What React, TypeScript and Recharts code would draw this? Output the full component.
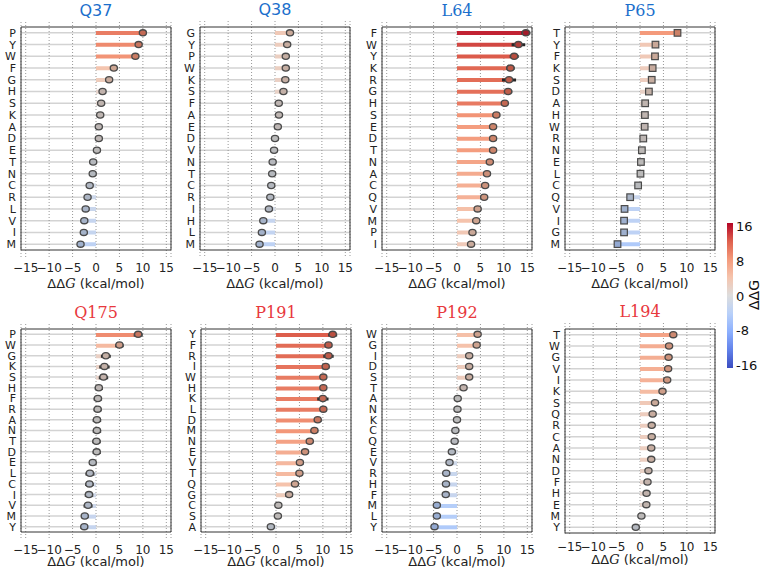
import React from 'react'
import { Bar, CartesianGrid, Cell, ComposedChart, Line, ReferenceArea, XAxis, YAxis } from 'recharts'

// residue labels and ddG values (kcal/mol), read top to bottom
const q37Labels = ['P', 'Y', 'W', 'F', 'G', 'H', 'S', 'K', 'A', 'D', 'E', 'T', 'N', 'C', 'R', 'L', 'V', 'I', 'M']
const q37Values = [10.0, 9.1, 8.4, 3.8, 2.8, 1.4, 1.1, 0.9, 0.6, 0.6, 0.2, -0.6, -0.7, -1.35, -1.8, -2.2, -2.5, -2.6, -3.3]
const q37Errors = [0.6, 0.6, 0.6, 0.5, 0.5, 0.5, 0.5, 0.5, 0.4, 0.4, 0.4, 0.4, 0.4, 0.4, 0.4, 0.4, 0.5, 0.5, 0.5]

const q38Labels = ['G', 'Y', 'P', 'W', 'K', 'S', 'F', 'A', 'E', 'D', 'V', 'N', 'T', 'C', 'R', 'I', 'H', 'L', 'M']
const q38Values = [3.2, 2.6, 2.3, 2.3, 2.2, 1.8, 0.8, 0.85, 0.6, 0.0, -0.2, -0.5, -0.6, -0.8, -1.0, -1.3, -2.5, -2.8, -3.3]
const q38Errors = [0.5, 0.5, 0.5, 0.5, 0.5, 0.5, 0.4, 0.4, 0.4, 0.4, 0.4, 0.4, 0.4, 0.4, 0.4, 0.4, 0.5, 0.5, 0.5]

const l64Labels = ['F', 'W', 'Y', 'K', 'R', 'G', 'H', 'S', 'E', 'D', 'T', 'N', 'A', 'C', 'Q', 'V', 'M', 'P', 'I']
const l64Values = [14.7, 13.1, 12.2, 11.4, 11.1, 10.9, 10.2, 8.4, 7.7, 7.7, 7.7, 7.0, 6.4, 6.0, 5.8, 4.4, 4.1, 3.3, 3.0]
const l64Errors = [0.95, 1.45, 0.95, 0.9, 1.5, 0.9, 0.7, 0.8, 0.8, 0.8, 0.8, 0.8, 0.8, 0.75, 0.8, 0.75, 0.8, 0.6, 0.6]

const p65Labels = ['T', 'Y', 'F', 'K', 'S', 'D', 'A', 'H', 'W', 'R', 'N', 'E', 'L', 'C', 'Q', 'V', 'I', 'G', 'M']
const p65Values = [8.0, 3.3, 3.2, 2.7, 2.5, 1.9, 1.1, 1.05, 1.0, 0.7, 0.4, 0.2, 0.1, -0.4, -2.1, -3.3, -3.4, -3.4, -4.8]
const p65Errors = [0.4, 0.4, 0.4, 0.4, 0.4, 0.4, 0.4, 0.4, 0.4, 0.4, 0.4, 0.4, 0.4, 0.4, 0.4, 0.4, 0.4, 0.4, 0.4]

const q175Labels = ['P', 'W', 'G', 'K', 'S', 'H', 'F', 'R', 'A', 'N', 'T', 'D', 'E', 'L', 'C', 'I', 'V', 'M', 'Y']
const q175Values = [9.0, 5.0, 2.1, 1.8, 1.6, 0.6, 0.4, 0.35, 0.2, 0.2, 0.1, 0.15, -0.7, -1.3, -1.4, -1.5, -1.7, -2.4, -2.5]
const q175Errors = [0.95, 0.9, 1.05, 1.1, 1.0, 0.85, 0.9, 0.85, 0.9, 0.9, 0.9, 0.85, 0.8, 0.95, 0.9, 0.9, 0.95, 0.8, 0.8]

const p191Labels = ['Y', 'F', 'R', 'I', 'W', 'H', 'K', 'L', 'D', 'M', 'N', 'E', 'V', 'T', 'Q', 'G', 'C', 'S', 'A']
const p191Values = [12.1, 11.2, 11.2, 10.6, 10.1, 10.1, 10.0, 10.1, 8.9, 8.2, 7.2, 6.2, 5.1, 5.0, 4.05, 2.8, 0.5, 0.4, -1.1]
const p191Errors = [0.95, 0.8, 1.1, 0.8, 0.7, 0.7, 1.2, 0.7, 0.8, 0.8, 0.8, 0.7, 0.75, 0.75, 0.75, 0.8, 0.5, 0.5, 0.5]

const p192Labels = ['W', 'G', 'I', 'D', 'S', 'T', 'A', 'N', 'K', 'C', 'Q', 'E', 'V', 'R', 'H', 'F', 'M', 'L', 'Y']
const p192Values = [4.4, 4.2, 2.6, 2.6, 2.6, 1.4, 0.15, 0.1, 0.0, -0.35, -0.5, -1.1, -1.6, -2.3, -2.35, -2.4, -4.3, -4.3, -4.8]
const p192Errors = [0.5, 0.5, 0.5, 0.5, 0.5, 0.5, 0.4, 0.4, 0.4, 0.4, 0.4, 0.4, 0.4, 0.4, 0.4, 0.4, 0.5, 0.5, 0.5]

const l194Labels = ['T', 'W', 'G', 'V', 'I', 'K', 'S', 'Q', 'R', 'C', 'A', 'N', 'D', 'F', 'H', 'E', 'M', 'Y']
const l194Values = [7.1, 6.2, 6.1, 6.0, 5.8, 4.8, 3.2, 2.7, 2.5, 2.5, 2.4, 2.4, 1.8, 1.6, 1.4, 1.35, 0.3, -0.9]
const l194Errors = [0.5, 0.5, 0.5, 0.5, 0.5, 0.5, 0.4, 0.4, 0.4, 0.4, 0.4, 0.4, 0.4, 0.4, 0.4, 0.4, 0.4, 0.4]

const xTicks = [-15, -10, -5, 0, 5, 10, 15]
const cbarTicks = [16, 8, 0, -8, -16]

const BLUE = '#1b6fcc'
const RED = '#e8383d'

// matplotlib coolwarm, sampled
const coolwarm = [
  [59, 76, 192],
  [98, 130, 234],
  [141, 176, 254],
  [184, 208, 249],
  [221, 221, 221],
  [245, 196, 173],
  [244, 154, 123],
  [222, 96, 77],
  [180, 4, 38],
]

function cmap(v: number, k = 1) {
  const t = Math.max(0, Math.min(1, (v + 16) / 32)) * 8
  const i = Math.min(7, Math.floor(t))
  const f = t - i
  const a = coolwarm[i]
  const b = coolwarm[i + 1]
  const c = a.map((x, j) => Math.round((x + (b[j] - x) * f) * k))
  return `rgb(${c[0]},${c[1]},${c[2]})`
}

const fmt = (v: number) => String(v).replace('-', '\u2212')

interface PanelDef {
  title: string
  color: string
  serif: boolean
  square?: boolean
  labels: string[]
  values: number[]
  errors: number[]
  x: number
  y: number
  w: number
  h: number
  padTop: number
  padBot: number
  labelY: number
}

const panels: PanelDef[] = [
  { title: 'Q37', color: BLUE, serif: false, labels: q37Labels, values: q37Values, errors: q37Errors, x: 21, y: 22, w: 150, h: 235, padTop: 5, padBot: 7, labelY: 284 },
  { title: 'Q38', color: BLUE, serif: false, labels: q38Labels, values: q38Values, errors: q38Errors, x: 200, y: 21, w: 150, h: 236, padTop: 6, padBot: 7, labelY: 284 },
  { title: 'L64', color: BLUE, serif: true, labels: l64Labels, values: l64Values, errors: l64Errors, x: 382, y: 22, w: 150, h: 235, padTop: 5, padBot: 7, labelY: 284 },
  { title: 'P65', color: BLUE, serif: true, square: true, labels: p65Labels, values: p65Values, errors: p65Errors, x: 565, y: 22, w: 150, h: 235, padTop: 5, padBot: 7, labelY: 284 },
  { title: 'Q175', color: RED, serif: true, labels: q175Labels, values: q175Values, errors: q175Errors, x: 21, y: 324, w: 150, h: 215, padTop: 5, padBot: 7, labelY: 562 },
  { title: 'P191', color: RED, serif: true, labels: p191Labels, values: p191Values, errors: p191Errors, x: 201, y: 324, w: 150, h: 215, padTop: 5, padBot: 7, labelY: 562 },
  { title: 'P192', color: RED, serif: true, labels: p192Labels, values: p192Values, errors: p192Errors, x: 382, y: 324, w: 150, h: 215, padTop: 5, padBot: 7, labelY: 562 },
  { title: 'L194', color: RED, serif: true, labels: l194Labels, values: l194Values, errors: l194Errors, x: 565, y: 323, w: 150, h: 213, padTop: 6, padBot: 3, labelY: 560 },
]

function Marker(props: any) {
  const { cx, cy, payload, square } = props
  if (cx == null || cy == null) return null
  const fill = cmap(payload.v, 0.84)
  if (square) {
    return <rect x={cx - 3.3} y={cy - 3.3} width={6.6} height={6.6} fill={fill} stroke="#4a4a4a" strokeWidth={1.2} />
  }
  return <ellipse cx={cx} cy={cy} rx={3.6} ry={3.1} fill={fill} stroke="#4a4a4a" strokeWidth={1.3} />
}

function Panel({ p }: { p: PanelDef }) {
  // eb = [low, high] of the error interval, drawn as a thin dark range bar over the value bar
  const data = p.labels.map((aa, i) => ({
    aa,
    v: p.values[i],
    eb: [p.values[i] - p.errors[i], p.values[i] + p.errors[i]],
  }))
  const yw = 24

  // one light line through the centre of every residue row (same band maths as the category axis)
  const rowLines = ({ offset }: any) => {
    const band = (offset.height - p.padTop - p.padBot) / p.labels.length
    return p.labels.map((_, i) => offset.top + p.padTop + band * (i + 0.5))
  }

  return (
    <>
      <div
        style={{
          position: 'absolute',
          left: p.x,
          width: p.w,
          top: p.y - 21,
          textAlign: 'center',
          fontFamily: p.serif ? '"DejaVu Serif"' : '"DejaVu Sans"',
          fontSize: 16,
          lineHeight: '20px',
          color: p.color,
        }}
      >
        {p.title}
      </div>
      <div style={{ position: 'absolute', left: p.x - yw, top: p.y }}>
        <ComposedChart
          layout="vertical"
          width={p.w + yw + 8}
          height={p.h + 20}
          data={data}
          barGap={-3.5}
          margin={{ top: 0, right: 8, bottom: 0, left: 0 }}
        >
          <CartesianGrid vertical={false} stroke="#d3d3d3" strokeWidth={1.5} horizontalCoordinatesGenerator={rowLines} />
          <CartesianGrid horizontal={false} stroke="#8c8c8c" strokeWidth={0.9} strokeDasharray="1 2" />
          <XAxis
            type="number"
            domain={[-16, 16]}
            ticks={xTicks}
            interval={0}
            allowDataOverflow
            tickLine={false}
            axisLine={false}
            tickSize={0}
            tickMargin={6}
            height={20}
            tick={{ fontSize: 12, fill: '#222', fontFamily: 'DejaVu Sans' }}
            tickFormatter={fmt}
          />
          <YAxis
            type="category"
            dataKey="aa"
            width={yw}
            interval={0}
            tickLine={false}
            axisLine={false}
            tickSize={0}
            tickMargin={5}
            padding={{ top: p.padTop, bottom: p.padBot }}
            tick={{ fontSize: 11, fill: '#222', fontFamily: 'DejaVu Sans' }}
          />
          <Bar dataKey="v" barSize={4} isAnimationActive={false}>
            {data.map((d, i) => (
              <Cell key={i} fill={cmap(d.v)} />
            ))}
          </Bar>
          <Bar dataKey="eb" barSize={3} fill="#262626" isAnimationActive={false} />
          <Line
            dataKey="v"
            stroke="none"
            isAnimationActive={false}
            dot={(props: any) => <Marker key={'m' + props.index} {...props} square={p.square} />}
          />
          <ReferenceArea x1={-16} x2={16} fill="none" stroke="#333" strokeWidth={1} ifOverflow="visible" />
        </ComposedChart>
      </div>
      <div
        style={{
          position: 'absolute',
          left: p.x - 20,
          width: p.w + 40,
          top: p.labelY - 9,
          textAlign: 'center',
          fontFamily: '"DejaVu Sans"',
          fontSize: 13,
          lineHeight: '18px',
          color: '#222',
        }}
      >
        ΔΔ<i style={{ fontFamily: '"DejaVu Serif"' }}>G</i> (kcal/mol)
      </div>
    </>
  )
}

function ColorBar() {
  const top = 223
  const height = 145
  const stops = coolwarm.map((c, i) => `rgb(${c[0]},${c[1]},${c[2]}) ${(i / 8) * 100}%`).join(', ')
  return (
    <>
      <div
        style={{
          position: 'absolute',
          left: 727,
          top,
          width: 6,
          height,
          background: `linear-gradient(to top, ${stops})`,
        }}
      />
      {cbarTicks.map((t) => (
        <div
          key={t}
          style={{
            position: 'absolute',
            left: 736,
            top: top + 4 + ((16 - t) / 32) * (height - 6) - 8,
            fontFamily: '"DejaVu Sans"',
            fontSize: 13,
            lineHeight: '16px',
            color: '#111',
          }}
        >
          {t}
        </div>
      ))}
      <div
        style={{
          position: 'absolute',
          left: 729,
          top: 287,
          width: 50,
          textAlign: 'center',
          transform: 'rotate(-90deg)',
          fontFamily: '"DejaVu Sans"',
          fontSize: 14,
          lineHeight: '16px',
          color: '#111',
        }}
      >
        ΔΔG
      </div>
    </>
  )
}

export default function App() {
  return (
    <div
      style={{
        position: 'absolute',
        left: 0,
        top: 0,
        width: 760,
        height: 571,
        background: '#fff',
        overflow: 'hidden',
      }}
    >
      {panels.map((p) => (
        <Panel key={p.title} p={p} />
      ))}
      <ColorBar />
    </div>
  )
}
